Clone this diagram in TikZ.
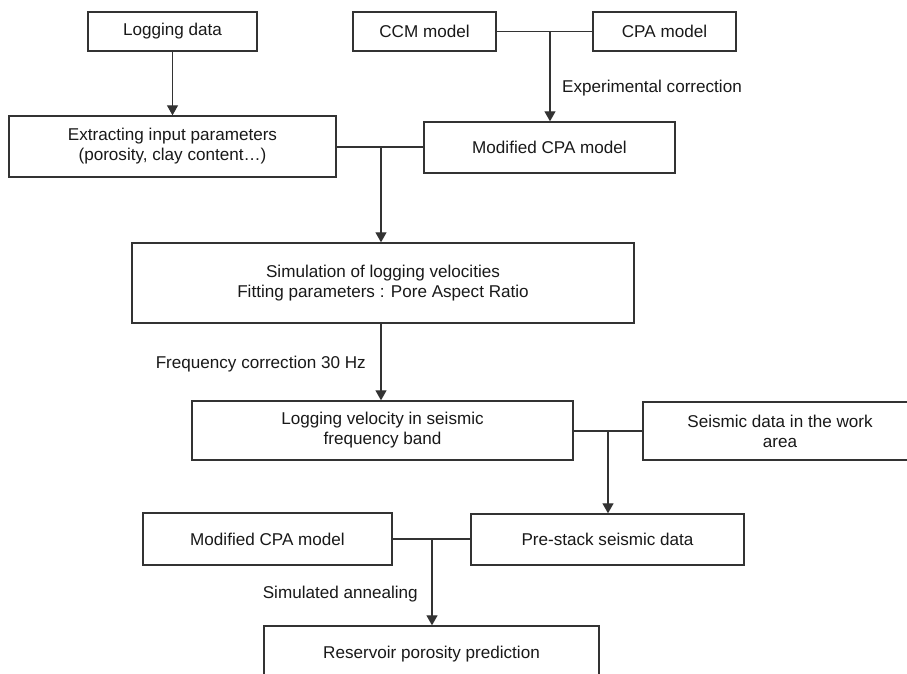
\documentclass[tikz,border=0pt]{standalone}
\usepackage{fontspec}
\setmainfont{Liberation Sans}
\usetikzlibrary{arrows.meta}
\newcommand\dfont{\fontsize{17.1}{20}\selectfont}
\begin{document}
\begin{tikzpicture}[x=1pt,y=-1pt,
  box/.style={draw=black!80, line width=1.4pt, rectangle, inner sep=0pt,
              align=center, font=\dfont, text=black!90},
  lbl/.style={inner sep=0pt, font=\dfont, text=black!90},
  conn/.style={draw=black!80, line width=1.3pt},
  arr/.style={conn, -{Triangle[length=10pt,width=11pt]}}]
\useasboundingbox (0,0) rectangle (907,673);
\clip (0,0) rectangle (907,673);
\fill[white] (0,0) rectangle (907,673);

% nodes
\node[box, minimum width=169pt, minimum height=39pt] (logd) at (172.5,31.5) {Logging data};
\node[box, minimum width=143pt, minimum height=39pt] (ccm) at (424.5,31.5) {CCM model};
\node[box, minimum width=143pt, minimum height=39pt] (cpa) at (664.5,31.5) {CPA model};
\node[box, minimum width=327pt, minimum height=61pt] (extr) at (172.5,146.5) {Extracting input parameters\\(porosity, clay content\ldots)};
\node[box, minimum width=251pt, minimum height=51pt] (mcpa1) at (549.5,147.5) {Modified CPA model};
\node[box, minimum width=502pt, minimum height=80pt] (sim) at (383,283) {Simulation of logging velocities\\Fitting parameters : Pore Aspect Ratio};
\node[box, minimum width=381pt, minimum height=59pt] (logv) at (382.5,430.5) {Logging velocity in seismic\\frequency band};
\node[box, minimum width=274pt, minimum height=58pt] (seis) at (780,431) {Seismic data in the work\\area};
\node[box, minimum width=273pt, minimum height=51pt] (pre) at (607.5,539.5) {Pre-stack seismic data};
\node[box, minimum width=249pt, minimum height=52pt] (mcpa2) at (267.5,539) {Modified CPA model};
\node[box, minimum width=335pt, minimum height=56pt] (res) at (431.5,654) {Reservoir porosity prediction};

% labels
\node[lbl, anchor=west] (l1) at (562,88) {Experimental correction};
\node[lbl, anchor=east] (l2) at (366,364) {Frequency correction 30 Hz};
\node[lbl, anchor=east] (l3) at (418,594) {Simulated annealing};

% junction points
\coordinate (j1) at (550,31.5);
\coordinate (j2) at (381,147);
\coordinate (j3) at (608,431);
\coordinate (j4) at (432,539);

% connectors
\draw[arr] (logd.south) -- (extr.north);
\draw[conn] (ccm.east) -- (cpa.west);
\draw[arr] (j1) -- (j1 |- mcpa1.north);
\draw[conn] (extr.east |- j2) -- (mcpa1.west |- j2);
\draw[arr] (j2) -- (j2 |- sim.north);
\draw[arr] (sim.south -| j2) -- (logv.north -| j2);
\draw[conn] (logv.east |- j3) -- (seis.west |- j3);
\draw[arr] (j3) -- (j3 |- pre.north);
\draw[conn] (mcpa2.east |- j4) -- (pre.west |- j4);
\draw[arr] (j4) -- (j4 |- res.north);
\end{tikzpicture}
\end{document}
